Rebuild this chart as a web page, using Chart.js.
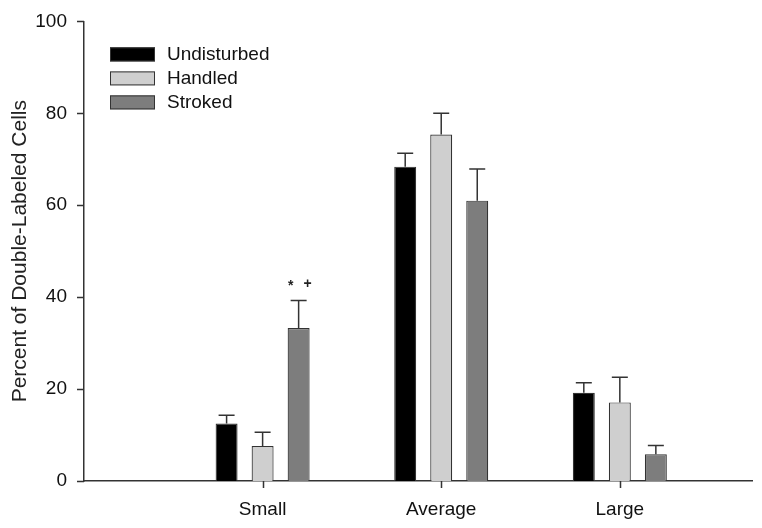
<!DOCTYPE html>
<html>
<head>
<meta charset="utf-8">
<script src="https://cdn.jsdelivr.net/npm/chart.js@4.4.1/dist/chart.umd.min.js"></script>
<style>
  body { margin: 0; background: #fff; }
  #wrap { width: 762px; height: 528px; }
</style>
</head>
<body>
<div id="wrap"><canvas id="chart" width="762" height="528"></canvas></div>
<script>
// data
let categories = ['Small', 'Average', 'Large']
let group_names = ['Undisturbed', 'Handled', 'Stroked']
let undisturbed = [12.5, 68.4, 19.2]
let handled = [7.6, 75.4, 17.1]
let stroked = [33.3, 61.0, 5.8]
let undisturbed_err = [1.8, 2.9, 2.2]
let handled_err = [3.0, 4.6, 5.5]
let stroked_err = [6.0, 6.9, 1.9]
let y_ticks = [0, 20, 40, 60, 80, 100]
let colors = ['#000000', '#cfcfcf', '#7d7d7d']
// marks above a bar: [dataset, category, text]
let marks = [[2, 0, ['*', '+']]]

let series = [undisturbed, handled, stroked]
let errors = [undisturbed_err, handled_err, stroked_err]
let font_family = "'Liberation Sans', Arial, sans-serif"

// bars sit at x = 1, 2, 3 on a linear axis so the empty space left of "Small" is kept
let datasets = series.map((vals, i) => ({
  label: group_names[i],
  data: vals.map((v, j) => ({ x: j + 1, y: v })),
  backgroundColor: colors[i],
  borderColor: '#333333',
  borderWidth: 1.2,
  categoryPercentage: 0.605,
  barPercentage: 0.61
}))

// upper error bars
let errorBars = {
  id: 'errorBars',
  afterDatasetsDraw(chart) {
    let ctx = chart.ctx
    let yScale = chart.scales.y
    ctx.save()
    ctx.strokeStyle = '#333333'
    ctx.lineWidth = 1.5
    chart.data.datasets.forEach((ds, i) => {
      let meta = chart.getDatasetMeta(i)
      meta.data.forEach((bar, j) => {
        let top = yScale.getPixelForValue(ds.data[j].y + errors[i][j])
        ctx.beginPath()
        ctx.moveTo(bar.x, bar.y)
        ctx.lineTo(bar.x, top)
        ctx.moveTo(bar.x - 8, top)
        ctx.lineTo(bar.x + 8, top)
        ctx.stroke()
      })
    })
    // significance marks
    ctx.fillStyle = '#222222'
    ctx.font = "bold 14px " + font_family
    ctx.textAlign = 'center'
    ctx.textBaseline = 'middle'
    marks.forEach(m => {
      let bar = chart.getDatasetMeta(m[0]).data[m[1]]
      let top = yScale.getPixelForValue(series[m[0]][m[1]] + errors[m[0]][m[1]])
      ctx.fillText(m[2][0], bar.x - 8, top - 14)
      ctx.fillText(m[2][1], bar.x + 9, top - 16)
    })
    ctx.restore()
  }
}

// outside tick marks on both axes, placed by the scales
let tickMarks = {
  id: 'tickMarks',
  afterDraw(chart) {
    let ctx = chart.ctx
    let xs = chart.scales.x
    let ys = chart.scales.y
    let area = chart.chartArea
    ctx.save()
    ctx.strokeStyle = '#333333'
    ctx.lineWidth = 1.5
    ctx.beginPath()
    xs.ticks.forEach(t => {
      let px = Math.round(xs.getPixelForValue(t.value)) + 0.5
      ctx.moveTo(px, area.bottom)
      ctx.lineTo(px, area.bottom + 7)
    })
    ys.ticks.forEach(t => {
      let py = Math.round(ys.getPixelForValue(t.value)) + 0.5
      ctx.moveTo(area.left - 7, py)
      ctx.lineTo(area.left, py)
    })
    ctx.stroke()
    ctx.restore()
  }
}

// legend drawn inside the plot, top left
let boxLegend = {
  id: 'boxLegend',
  afterDraw(chart) {
    let ctx = chart.ctx
    let left = chart.chartArea.left + 26
    let top = chart.chartArea.top + 26
    ctx.save()
    ctx.font = "19px " + font_family
    ctx.textBaseline = 'middle'
    chart.data.datasets.forEach((ds, i) => {
      let y = top + i * 24
      ctx.fillStyle = ds.backgroundColor
      ctx.fillRect(left, y, 45, 14)
      ctx.strokeStyle = '#333333'
      ctx.lineWidth = 1
      ctx.strokeRect(left + 0.5, y + 0.5, 44, 13)
      ctx.fillStyle = '#111111'
      ctx.fillText(ds.label, left + 57, y + 7)
    })
    ctx.restore()
  }
}

let chart = new Chart(document.querySelector('#chart'), {
  type: 'bar',
  data: { datasets: datasets },
  plugins: [errorBars, tickMarks, boxLegend],
  options: {
    responsive: false,
    animation: false,
    layout: { padding: { top: 20, right: 10, left: 0, bottom: 0 } },
    plugins: {
      legend: { display: false },
      tooltip: { enabled: false }
    },
    scales: {
      x: {
        type: 'linear',
        offset: false,
        min: 0,
        max: 3.74,
        afterBuildTicks: (scale) => {
          scale.ticks = categories.map((c, j) => ({ value: j + 1 }))
        },
        afterFit: (scale) => { scale.height = 47 },
        ticks: {
          callback: (v) => categories[v - 1],
          color: '#111111',
          padding: 10,
          maxRotation: 0,
          autoSkip: false,
          font: { size: 19, family: font_family }
        },
        grid: { display: false, drawTicks: true, tickLength: 7 },
        border: { display: true, color: '#333333', width: 1.5 }
      },
      y: {
        min: 0,
        max: 100,
        afterBuildTicks: (scale) => {
          scale.ticks = y_ticks.map(v => ({ value: v }))
        },
        afterFit: (scale) => { scale.width = 84 },
        ticks: {
          color: '#111111',
          padding: 10,
          font: { size: 19, family: font_family }
        },
        title: {
          display: true,
          text: 'Percent of Double-Labeled Cells',
          color: '#222222',
          padding: { top: 8, bottom: 0 },
          font: { size: 21, family: font_family }
        },
        grid: { display: false, drawTicks: true, tickLength: 7 },
        border: { display: true, color: '#333333', width: 1.5 }
      }
    }
  }
})
</script>
</body>
</html>
